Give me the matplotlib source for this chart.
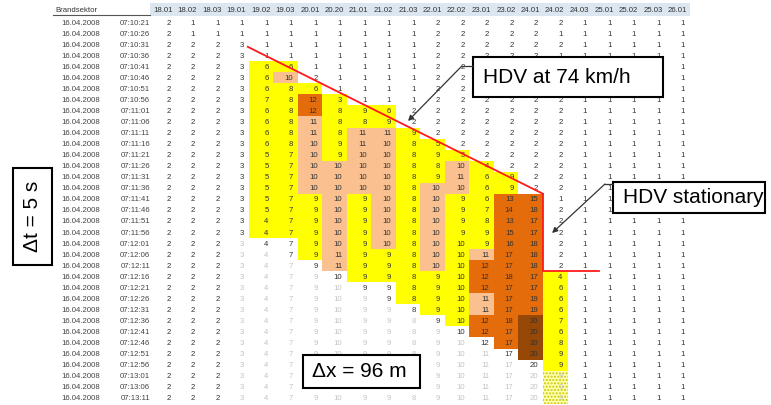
import matplotlib
matplotlib.use("Agg")
import matplotlib.pyplot as plt
from matplotlib.patches import Rectangle

sectors = ["18.01", "18.02", "18.03", "19.01", "19.02", "19.03", "20.01", "20.20",
           "21.01", "21.02", "21.03", "22.01", "22.02", "23.01", "23.02", "24.01",
           "24.02", "24.03", "25.01", "25.02", "25.03", "26.01"]
date_label = "16.04.2008"
times = ["07:10:21", "07:10:26", "07:10:31", "07:10:36", "07:10:41", "07:10:46", "07:10:51",
         "07:10:56", "07:11:01", "07:11:06", "07:11:11", "07:11:16", "07:11:21", "07:11:26",
         "07:11:31", "07:11:36", "07:11:41", "07:11:46", "07:11:51", "07:11:56", "07:12:01",
         "07:12:06", "07:12:11", "07:12:16", "07:12:21", "07:12:26", "07:12:31", "07:12:36",
         "07:12:41", "07:12:46", "07:12:51", "07:12:56", "07:13:01", "07:13:06", "07:13:11"]

values = [
    [2, 1, 1, 1, 1, 1, 1, 1, 1, 1, 1, 2, 2, 2, 2, 2, 2, 1, 1, 1, 1, 1],
    [2, 1, 1, 1, 1, 1, 1, 1, 1, 1, 1, 2, 2, 2, 2, 2, 1, 1, 1, 1, 1, 1],
    [2, 2, 2, 3, 1, 1, 1, 1, 1, 1, 1, 2, 2, 2, 2, 2, 2, 1, 1, 1, 1, 1],
    [2, 2, 2, 3, 1, 1, 1, 1, 1, 1, 1, 2, 2, 2, 2, 2, 1, 1, 1, 1, 1, 1],
    [2, 2, 2, 3, 6, 6, 1, 1, 1, 1, 1, 2, 2, 2, 2, 2, 2, 1, 1, 1, 1, 1],
    [2, 2, 2, 3, 6, 10, 2, 1, 1, 1, 1, 2, 2, 2, 2, 2, 2, 1, 1, 1, 1, 1],
    [2, 2, 2, 3, 6, 8, 6, 1, 1, 1, 1, 2, 2, 2, 2, 2, 2, 1, 1, 1, 1, 1],
    [2, 2, 2, 3, 7, 8, 12, 3, 1, 1, 1, 2, 2, 2, 2, 2, 2, 1, 1, 1, 1, 1],
    [2, 2, 2, 3, 6, 8, 12, 8, 9, 6, 2, 2, 2, 2, 2, 2, 2, 1, 1, 1, 1, 1],
    [2, 2, 2, 3, 6, 8, 11, 8, 8, 9, 2, 2, 2, 2, 2, 2, 2, 1, 1, 1, 1, 1],
    [2, 2, 2, 3, 6, 8, 11, 8, 11, 11, 9, 2, 2, 2, 2, 2, 2, 1, 1, 1, 1, 1],
    [2, 2, 2, 3, 6, 8, 10, 9, 11, 10, 8, 5, 2, 2, 2, 2, 2, 1, 1, 1, 1, 1],
    [2, 2, 2, 3, 5, 7, 10, 9, 10, 10, 8, 9, 5, 2, 2, 2, 2, 1, 1, 1, 1, 1],
    [2, 2, 2, 3, 5, 7, 10, 10, 10, 10, 8, 8, 10, 4, 2, 2, 2, 1, 1, 1, 1, 1],
    [2, 2, 2, 3, 5, 7, 10, 10, 10, 10, 8, 9, 11, 6, 9, 2, 2, 1, 1, 1, 1, 1],
    [2, 2, 2, 3, 5, 7, 10, 10, 10, 10, 8, 10, 10, 6, 9, 2, 2, 1, 1, 1, 1, 1],
    [2, 2, 2, 3, 5, 7, 9, 10, 9, 10, 8, 10, 9, 6, 13, 15, 1, 1, 1, 1, 1, 1],
    [2, 2, 2, 3, 5, 7, 9, 10, 9, 10, 8, 10, 9, 7, 14, 18, 2, 1, 1, 1, 1, 1],
    [2, 2, 2, 3, 4, 7, 9, 10, 9, 10, 8, 10, 9, 8, 13, 17, 2, 1, 1, 1, 1, 1],
    [2, 2, 2, 3, 4, 7, 9, 10, 9, 10, 8, 10, 9, 9, 15, 17, 2, 1, 1, 1, 1, 1],
    [2, 2, 2, 3, 4, 7, 9, 10, 9, 10, 8, 10, 10, 9, 16, 18, 2, 1, 1, 1, 1, 1],
    [2, 2, 2, 3, 4, 7, 9, 11, 9, 9, 8, 10, 10, 11, 17, 18, 2, 1, 1, 1, 1, 1],
    [2, 2, 2, 3, 4, 7, 9, 11, 9, 9, 8, 10, 10, 12, 17, 18, 2, 1, 1, 1, 1, 1],
    [2, 2, 2, 3, 4, 7, 9, 10, 9, 9, 8, 9, 10, 12, 18, 17, 4, 1, 1, 1, 1, 1],
    [2, 2, 2, 3, 4, 7, 9, 10, 9, 9, 8, 9, 10, 12, 17, 17, 6, 1, 1, 1, 1, 1],
    [2, 2, 2, 3, 4, 7, 9, 10, 9, 9, 8, 9, 10, 11, 17, 19, 6, 1, 1, 1, 1, 1],
    [2, 2, 2, 3, 4, 7, 9, 10, 9, 9, 8, 9, 10, 11, 17, 19, 6, 1, 1, 1, 1, 1],
    [2, 2, 2, 3, 4, 7, 9, 10, 9, 9, 8, 9, 10, 12, 18, 20, 7, 1, 1, 1, 1, 1],
    [2, 2, 2, 3, 4, 7, 9, 10, 9, 9, 8, 9, 10, 12, 17, 20, 6, 1, 1, 1, 1, 1],
    [2, 2, 2, 3, 4, 7, 9, 10, 9, 9, 8, 9, 10, 12, 17, 20, 8, 1, 1, 1, 1, 1],
    [2, 2, 2, 3, 4, 7, 9, 10, 9, 9, 8, 9, 10, 11, 17, 20, 9, 1, 1, 1, 1, 1],
    [2, 2, 2, 3, 4, 7, 9, 10, 9, 9, 8, 9, 10, 11, 17, 20, 9, 1, 1, 1, 1, 1],
    [2, 2, 2, 3, 4, 7, 9, 10, 9, 9, 8, 9, 10, 11, 17, 20, 9, 1, 1, 1, 1, 1],
    [2, 2, 2, 3, 4, 7, 9, 10, 9, 9, 8, 9, 10, 11, 17, 20, 9, 1, 1, 1, 1, 1],
    [2, 2, 2, 3, 4, 7, 9, 10, 9, 9, 8, 9, 10, 11, 17, 20, 9, 1, 1, 1, 1, 1],
]

# cell classes: '.' plain, ',' greyed out, Y/S/O/B highlight levels, H hatched
classes = [
    "......................",
    "......................",
    "......................",
    "......................",
    "....YY................",
    "....YS................",
    "....YYY...............",
    "....YYOY..............",
    "....YYOYYY............",
    "....YYSYYY............",
    "....YYSYSSY...........",
    "....YYSYSSYY..........",
    "....YYSYSSYYY.........",
    "....YYSSSSYYSY........",
    "....YYSSSSYYSYY.......",
    "....YYSSSSYSSYY.......",
    "....YYYSYSYSYYOO......",
    "....YYYSYSYSYYOO......",
    "....YYYSYSYSYYOO......",
    "....YYYSYSYSYYOO......",
    "...,..YSYSYSYYOO......",
    "...,,.YSYYYSYSOO......",
    "...,,,.SYYYSYOOO......",
    "...,,,,.YYYYYOOOY.....",
    "...,,,,,..YYYOOOY.....",
    "...,,,,,,.YYYSOOY.....",
    "...,,,,,,,.YYSOOY.....",
    "...,,,,,,,,.YOOBY.....",
    "...,,,,,,,,,.OOBY.....",
    "...,,,,,,,,,,.OBY.....",
    "...,,,,,,,,,,,.BY.....",
    "...,,,,,,,,,,,,.Y.....",
    "...,,,,,,,,,,,,,H.....",
    "...,,,,,,,,,,,,,H.....",
    "...,,,,,,,,,,,,,H.....",
]

stationary_col = 16
stationary_row = 23

plt.rcParams['font.family'] = ['Liberation Sans', 'DejaVu Sans']
fig = plt.figure(figsize=(7.71, 4.05), dpi=100)
ax = fig.add_axes([0, 0, 1, 1])
ax.set_xlim(-6.163, 25.306)
ax.set_ylim(35.11, -1.538)
ax.axis('off')

fills = {'Y': '#FFFF00', 'S': '#FAC090', 'O': '#E46C0A', 'B': '#974806', 'H': '#FFFFB0'}
fs = 5.6
for i, row in enumerate(values):
    for j, v in enumerate(row):
        c = classes[i][j]
        if c == 'H':
            ax.add_patch(Rectangle((j, i), 1, 1, facecolor=fills[c], edgecolor='#C8C800',
                                   hatch='.....', lw=0, zorder=1))
        elif c in fills:
            ax.add_patch(Rectangle((j, i), 1, 1, facecolor=fills[c], edgecolor='none', zorder=1))
        col = '#c4c4c4' if c in ',H' else '#333333'
        ax.text(j + 0.8, i + 0.55, str(v), ha='right', va='center', fontsize=fs,
                color=col, zorder=3)
    ax.text(-2.08, i + 0.55, date_label, ha='right', va='center', fontsize=fs, color='#444444')
    ax.text(-0.04, i + 0.55, times[i], ha='right', va='center', fontsize=fs, color='#444444')

# header
ax.add_patch(Rectangle((-0.04, -1.27), len(sectors) + 0.04, 1.18, facecolor='#DCE6F1',
                       edgecolor='none', zorder=0))
for j, s in enumerate(sectors):
    ax.text(j + 0.88, -0.63, s, ha='right', va='center', fontsize=fs, color='#333333')
ax.text(-3.92, -0.63, "Brandsektor", ha='left', va='center', fontsize=fs, color='#333333')
ax.plot([-4.0, -0.04], [-0.15, -0.15], color='#555555', lw=0.8)

# red lines
ax.plot([3.95, stationary_col], [2.7, 16], color='#FF1a1a', lw=1.3, zorder=4)
ax.plot([stationary_col, stationary_col, stationary_col + 2.3],
        [16, stationary_row, stationary_row], color='#FF1a1a', lw=1.3, zorder=4)

# annotation boxes
def box(x0, y0, x1, y1, text, tx, ty, rot=0, ha='left'):
    ax.add_patch(Rectangle((x0, y0), x1 - x0, y1 - y0, facecolor='white', edgecolor='black',
                           lw=1.5, zorder=6))
    ax.text(tx, ty, text, ha=ha, va='center', fontsize=15, rotation=rot, color='black',
            zorder=7)

box(13.14, 3.62, 20.9, 7.24, "HDV at 74 km/h", 13.55, 5.5)
box(18.86, 14.93, 25.06, 17.74, "HDV stationary", 19.27, 16.35)
box(6.2, 30.59, 10.98, 33.57, "\u0394x = 96 m", 6.57, 32.1)
box(-5.63, 13.67, -4.04, 22.44, "\u0394t = 5 s", -4.84, 18.05, rot=90, ha='center')

arrow = dict(arrowstyle='-|>', color='#333333', lw=0.9, mutation_scale=8, shrinkA=0, shrinkB=0)
ax.plot([13.14, 12.69], [4.43, 4.43], color='#333333', lw=0.9, zorder=6)
ax.annotate('', xy=(10.49, 9.41), xytext=(12.69, 4.43), arrowprops=arrow, zorder=6)
ax.plot([18.86, 18.53], [15.11, 15.11], color='#333333', lw=0.9, zorder=6)
ax.annotate('', xy=(16.37, 19.55), xytext=(18.53, 15.11), arrowprops=arrow, zorder=6)

fig.savefig("out.png", dpi=100, facecolor='white')
